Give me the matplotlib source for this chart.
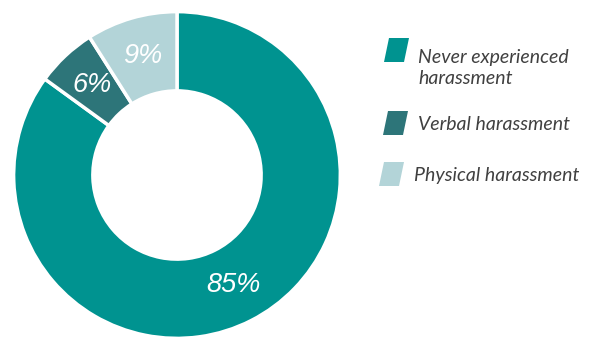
import matplotlib
matplotlib.use("Agg")
import matplotlib.pyplot as plt
from matplotlib.patches import Polygon

# Survey shares (percent)
categories = ["Never experienced\nharassment", "Verbal harassment", "Physical harassment"]
shares = [85, 6, 9]
colors = ["#009390", "#2D7579", "#B3D4D8"]

W, H = 594, 342
fig = plt.figure(figsize=(W / 100, H / 100), dpi=100)
fig.patch.set_facecolor("white")

# Donut axes: 330 px square, centred at (177, 175) from the top-left
ax = fig.add_axes([12 / W, 2 / H, 330 / W, 330 / H])
wedges, texts, autotexts = ax.pie(
    shares,
    colors=colors,
    startangle=90,
    counterclock=False,
    radius=1.0,
    wedgeprops=dict(width=0.485, edgecolor="white", linewidth=2.5),
    autopct="%.0f%%",
    pctdistance=0.757,
    textprops=dict(color="white", fontsize=19.5, style="italic",
                   family="Liberation Sans"),
)
ax.set_xlim(-1.01, 1.01)
ax.set_ylim(-1.01, 1.01)
ax.set_aspect("equal")
ax.axis("off")

# Legend with slanted swatches, drawn in pixel coordinates
def px(x, y):
    return (x / W, 1 - y / H)

legend_rows = [
    # swatch top y, text x, baseline y of the last line
    (38, 418, 84),
    (111, 418, 130),
    (162, 414, 181),
]
swatch_x = [384, 383, 379]
for (top, tx, base), sx, label, col in zip(legend_rows, swatch_x, categories, colors):
    h = 24
    poly = Polygon(
        [px(sx + 5, top), px(sx + 25, top), px(sx + 20, top + h), px(sx, top + h)],
        closed=True, transform=fig.transFigure, facecolor=col, edgecolor="none",
    )
    fig.patches.append(poly)
    fig.text(tx / W, 1 - base / H, label, ha="left", va="baseline",
             fontsize=14, style="italic", family="Lato", color="#404040",
             linespacing=1.25)

fig.savefig("out.png", dpi=100, facecolor="white")
